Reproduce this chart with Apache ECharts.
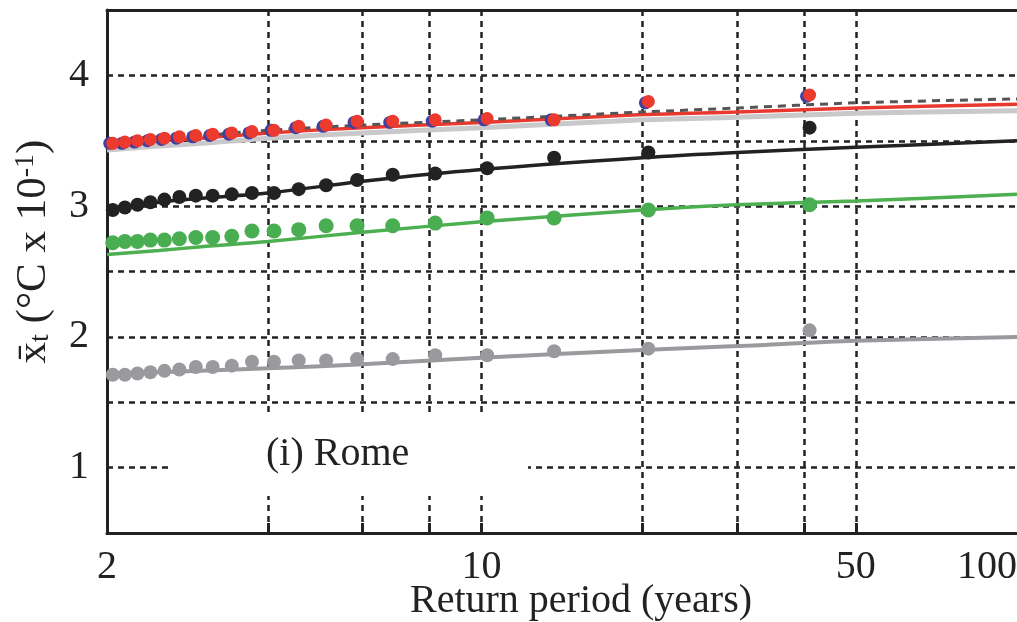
<!DOCTYPE html>
<html>
<head>
<meta charset="utf-8">
<script src="https://cdn.jsdelivr.net/npm/echarts@6/dist/echarts.min.js"></script>
<style>
    html, body {margin: 0; padding: 0; background: #fff;}
    #chart {width: 1017px; height: 622px;}
</style>
</head>
<body>
<div id="chart"></div>
<script>
// return periods of the observed maxima (plotting positions)
const returnPeriods = [41, 20.5, 13.67, 10.25, 8.2, 6.83, 5.86, 5.13, 4.56, 4.1, 3.73, 3.42, 3.15, 2.93, 2.73, 2.56, 2.41, 2.28, 2.16, 2.05];
const redObs   = [3.85, 3.80, 3.66, 3.67, 3.66, 3.65, 3.65, 3.62, 3.61, 3.58, 3.57, 3.56, 3.55, 3.54, 3.53, 3.52, 3.51, 3.50, 3.49, 3.48];
const blueObs  = [3.84, 3.79, 3.66, 3.66, 3.65, 3.64, 3.64, 3.61, 3.60, 3.58, 3.56, 3.55, 3.54, 3.53, 3.52, 3.51, 3.50, 3.49, 3.48, 3.48];
const blackObs = [3.60, 3.41, 3.37, 3.29, 3.25, 3.24, 3.20, 3.16, 3.13, 3.10, 3.10, 3.09, 3.08, 3.08, 3.07, 3.05, 3.03, 3.01, 2.99, 2.97];
const greenObs = [3.01, 2.97, 2.91, 2.91, 2.87, 2.85, 2.85, 2.85, 2.82, 2.81, 2.81, 2.77, 2.76, 2.76, 2.75, 2.74, 2.74, 2.73, 2.73, 2.72];
const greyObs  = [2.05, 1.91, 1.89, 1.86, 1.86, 1.83, 1.83, 1.82, 1.82, 1.81, 1.81, 1.78, 1.77, 1.77, 1.75, 1.74, 1.73, 1.72, 1.71, 1.71];

// fitted curves, read at these return periods
const fitT      = [2, 2.5, 3, 4, 6, 10, 20, 30, 50, 100];
const redFit    = [3.47, 3.50, 3.52, 3.56, 3.60, 3.64, 3.70, 3.72, 3.75, 3.78];
const darkFit   = [3.49, 3.52, 3.54, 3.58, 3.62, 3.66, 3.72, 3.75, 3.79, 3.82];
const lightFit  = [3.43, 3.46, 3.48, 3.52, 3.56, 3.60, 3.66, 3.68, 3.71, 3.73];
const blackFit  = [2.96, 3.03, 3.06, 3.10, 3.19, 3.28, 3.37, 3.41, 3.45, 3.50];
const greenFit  = [2.63, 2.66, 2.69, 2.73, 2.80, 2.88, 2.97, 3.01, 3.04, 3.09];
const greyFit   = [1.72, 1.73, 1.74, 1.76, 1.79, 1.84, 1.90, 1.93, 1.97, 2.00];

// axis ticks
const xGridTicks = [4, 6, 8, 10, 20, 30, 40, 50];
const xLabelTicks = [2, 10, 50, 100];

const serif = '"Liberation Serif", "DejaVu Serif", serif';
const ink = '#222';

const pairs = (xs, ys) => xs.map((x, i) => [x, ys[i]]);

const fitLine = (name, ys, color, width, type) => ({
    name: name, type: 'line', data: pairs(fitT, ys), smooth: 0.3,
    showSymbol: false, symbol: 'none',
    lineStyle: {color: color, width: width, type: type || 'solid'},
    z: 3
});
const dots = (name, ys, color, size, offset) => ({
    name: name, type: 'scatter', data: pairs(returnPeriods, ys),
    symbol: 'circle', symbolSize: size, symbolOffset: offset || [0, 0],
    itemStyle: {color: color, opacity: 1},
    z: 4
});

const option = {
    animation: false,
    grid: {left: 107, right: 0, top: 10, bottom: 89, outerBoundsMode: 'none'},
    xAxis: [{
        type: 'log', logBase: 10, min: 2, max: 100,
        axisLine: {lineStyle: {color: ink, width: 3}},
        axisTick: {inside: true, length: 10, customValues: xGridTicks, lineStyle: {color: ink, width: 3}},
        axisLabel: {
            customValues: xLabelTicks, color: ink, fontFamily: serif, fontSize: 40, margin: 14,
            showMinLabel: true, showMaxLabel: true, alignMaxLabel: 'right'
        },
        splitLine: {show: true, lineStyle: {color: ink, width: 2.5, type: [6, 5]}},
        name: 'Return period (years)', nameLocation: 'middle', nameGap: 48, nameMoveOverlap: false,
        nameTextStyle: {color: ink, fontFamily: serif, fontSize: 40, padding: [0, 0, 0, 38]}
    }, {
        type: 'log', logBase: 10, min: 2, max: 100, position: 'top',
        axisLine: {show: true, lineStyle: {color: ink, width: 3}},
        axisTick: {show: false}, axisLabel: {show: false}, splitLine: {show: false}
    }],
    yAxis: {
        type: 'value', min: 0.5, max: 4.5, interval: 0.5,
        axisLine: {show: true, lineStyle: {color: ink, width: 3}},
        axisTick: {show: false},
        axisLabel: {
            color: ink, fontFamily: serif, fontSize: 40, margin: 18,
            formatter: v => (Number.isInteger(v) ? String(v) : '')
        },
        splitLine: {show: true, lineStyle: {color: ink, width: 2.5, type: [6, 5]}},
        name: '{a|x\u0304}{s|t} (°C x 10{p|-1})', nameLocation: 'middle', nameGap: 52,
        nameTextStyle: {
            color: ink, fontFamily: serif, fontSize: 43, padding: [0, 0, 0, 40],
            rich: {
                a: {fontFamily: serif, fontSize: 43, color: ink},
                s: {fontFamily: serif, fontSize: 28, color: ink, verticalAlign: 'bottom', padding: [12, 0, 0, 0]},
                p: {fontFamily: serif, fontSize: 28, color: ink, verticalAlign: 'top', padding: [0, 0, 14, 0]}
            }
        }
    },
    graphic: [{
        type: 'rect', z: 100,
        shape: {x: 172, y: 416, width: 356, height: 80},
        style: {fill: '#fff'}
    }, {
        type: 'text', z: 101, left: 266, top: 434,
        style: {text: '(i) Rome', font: '40px "Liberation Serif", serif', fill: ink}
    }],
    series: [
        fitLine('light', lightFit, '#c9c9cc', 5),
        fitLine('red fit', redFit, '#e8392f', 3.5),
        fitLine('dark fit', darkFit, '#555', 3, [8, 6]),
        fitLine('black fit', blackFit, ink, 3.5),
        fitLine('green fit', greenFit, '#4caf50', 3.5),
        fitLine('grey fit', greyFit, '#9a9a9e', 4),
        dots('blue', blueObs, '#4040a0', 13, [-3, 0]),
        dots('red', redObs, '#ec3a2e', 13),
        dots('black', blackObs, ink, 14),
        dots('green', greenObs, '#49ad52', 15),
        dots('grey', greyObs, '#9a9a9e', 14)
    ]
};

const myChart = echarts.init(document.getElementById('chart'));
myChart.setOption(option);
</script>
</body>
</html>
